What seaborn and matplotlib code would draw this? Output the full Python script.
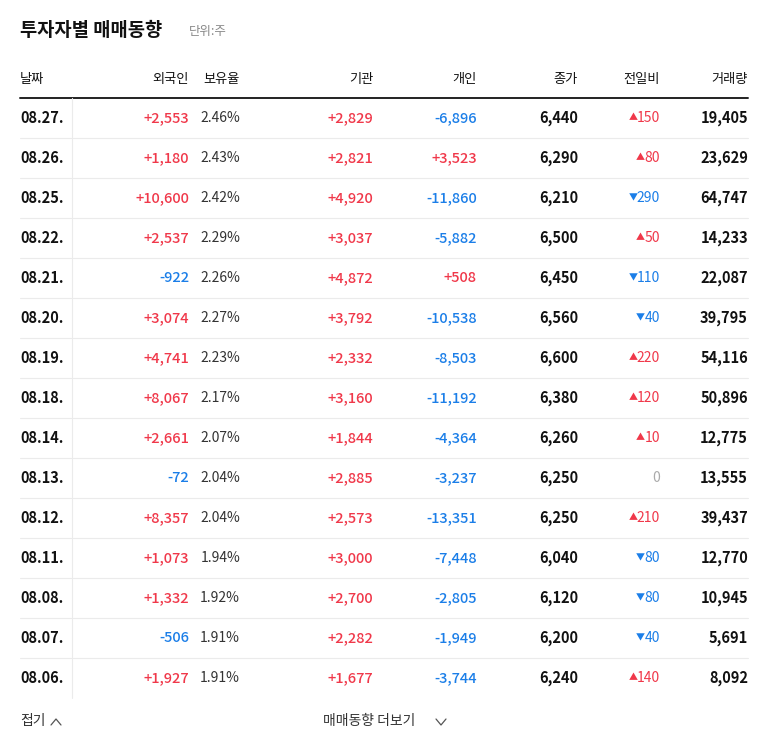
import matplotlib
matplotlib.use("Agg")
import matplotlib.pyplot as plt
import seaborn as sns

dates = ["08.27.","08.26.","08.25.","08.22.","08.21.","08.20.","08.19.","08.18.","08.14.","08.13.","08.12.","08.11.","08.08.","08.07.","08.06."]
foreign = [2553,1180,10600,2537,-922,3074,4741,8067,2661,-72,8357,1073,1332,-506,1927]
holding = [2.46,2.43,2.42,2.29,2.26,2.27,2.23,2.17,2.07,2.04,2.04,1.94,1.92,1.91,1.91]
inst = [2829,2821,4920,3037,4872,3792,2332,3160,1844,2885,2573,3000,2700,2282,1677]
indiv = [-6896,3523,-11860,-5882,508,-10538,-8503,-11192,-4364,-3237,-13351,-7448,-2805,-1949,-3744]
close = [6440,6290,6210,6500,6450,6560,6600,6380,6260,6250,6250,6040,6120,6200,6240]
change = [150,80,-290,50,-110,-40,220,120,10,0,210,-80,-80,-40,140]
volume = [19405,23629,64747,14233,22087,39795,54116,50896,12775,13555,39437,12770,10945,5691,8092]
headers = ["날짜","외국인","보유율","기관","개인","종가","전일비","거래량"]

sns.set_theme(style="white")
FONT = ["Noto Sans CJK KR", "Noto Sans CJK JP", "Noto Sans CJK SC", "DejaVu Sans"]
plt.rcParams["font.family"] = FONT
RED, BLUE, GRAY, DARK = "#f0384a", "#1b7ee8", "#aaaaaa", "#111111"

fig = plt.figure(figsize=(7.68, 7.49), dpi=100)
ax = fig.add_axes([0, 0, 1, 1])
ax.set_xlim(0, 768); ax.set_ylim(749, 0); ax.axis("off")

def t(x, y, s, ha="right", color=DARK, size=10.5, weight="normal"):
    ax.text(x, y, s, ha=ha, va="center", color=color, fontsize=size, fontweight=weight, family=FONT)

t(20, 31, "투자자별 매매동향", ha="left", size=13.5, weight="bold")
t(189, 32, "단위:주", ha="left", size=9, color="#888888")

hx = [20, 189, 240, 373, 477, 578, 660, 748]
for i, h in enumerate(headers):
    t(hx[i], 80, h, ha="left" if i == 0 else "right", size=9.5)
ax.plot([20, 748], [98, 98], color="#222222", lw=1.4)

def signed(v):
    return f"{v:+,}"

def col(v):
    return RED if v > 0 else BLUE

for r in range(len(dates)):
    y = 118 + 40 * r
    t(20, y, dates[r], ha="left", weight="bold")
    t(189, y, signed(foreign[r]), color=col(foreign[r]), weight="medium")
    t(240, y, f"{holding[r]:.2f}%", color="#333333", size=10)
    t(373, y, signed(inst[r]), color=col(inst[r]), weight="medium")
    t(477, y, signed(indiv[r]), color=col(indiv[r]), weight="medium")
    t(578, y, f"{close[r]:,}", weight="bold")
    c = change[r]
    ax_x = 660 - 7.2 * len(str(abs(c))) - 1
    if c > 0:
        t(660, y, f"{c}", color=RED, size=10)
        t(ax_x, y, "▲", color=RED, size=6.5)
    elif c < 0:
        t(660, y, f"{-c}", color=BLUE, size=10)
        t(ax_x, y, "▼", color=BLUE, size=6.5)
    else:
        t(660, y, "0", color=GRAY, size=10)
    t(748, y, f"{volume[r]:,}", weight="bold")
    if r < len(dates) - 1:
        ax.plot([20, 748], [y + 20, y + 20], color="#ebebeb", lw=0.8)
ax.plot([72, 72], [98, 698], color="#ebebeb", lw=0.8)

t(20, 721, "접기", ha="left", size=10, color="#333333")
ax.plot([51, 56, 61], [725, 719, 725], color="#555555", lw=0.9)
t(323, 721, "매매동향 더보기", ha="left", size=10, color="#333333")
ax.plot([436, 441, 446], [719, 725, 719], color="#555555", lw=0.9)

fig.savefig("out.png", dpi=100, facecolor="white")
